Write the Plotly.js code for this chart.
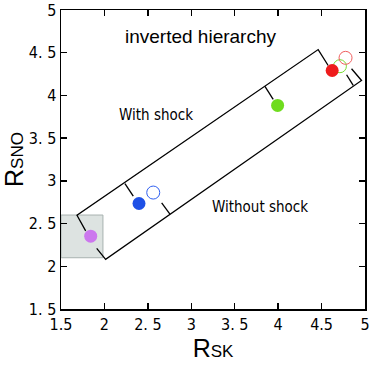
<!DOCTYPE html>
<html>
<head>
<meta charset="utf-8">
<script src="https://cdn.plot.ly/plotly-3.0.1.min.js"></script>
<style>
  body { margin: 0; background: #fff; }
  #chart { width: 370px; height: 367px; }
</style>
</head>
<body>
<div id="chart"></div>
<script>
// measured points (R_SK, R_SNO)
const filledX = [1.842, 2.398, 3.994, 4.622];
const filledY = [2.353, 2.735, 3.883, 4.292];
const filledColors = ["#cc77ee", "#1e50e6", "#6fdc1e", "#ee1c1c"];

const openX = [2.562, 4.711, 4.776];
const openY = [2.863, 4.342, 4.440];
const openColors = ["#3060f0", "#77dd33", "#f06060"];

// band outline and the little perpendicular ticks (null = break)
const bandX = [1.784, 1.684, 4.461, 4.576, null,
               4.845, 4.960, 2.014, 1.911, null,
               2.236, 2.332, null, 2.754, 2.659, null,
               3.848, 3.943, null, 4.864, 4.788];
const bandY = [2.415, 2.598, 4.537, 4.350, null,
               4.312, 4.175, 2.081, 2.209, null,
               2.968, 2.820, null, 2.610, 2.742, null,
               4.105, 3.953, null, 4.117, 4.242];

// grey box
const boxX = [1.5, 1.983];
const boxY = [2.1, 2.6];

const tickVals = [1.5, 2, 2.5, 3, 3.5, 4, 4.5, 5];
const xTickText = ["1.5", "2", "2. 5", "3", "3. 5", "4", "4.5", "5"];
const yTickText = ["1. 5", "2", "2. 5", "3", "3. 5", "4", "4. 5", "5"];

const narrow = "'Liberation Sans Narrow', 'DejaVu Sans Condensed', 'Liberation Sans', sans-serif";

const traces = [
  {
    x: bandX, y: bandY,
    mode: "lines", type: "scatter",
    line: { color: "#000", width: 1.3 },
    connectgaps: false,
    hoverinfo: "skip"
  },
  {
    x: openX, y: openY,
    mode: "markers", type: "scatter",
    marker: { size: 13, color: "rgba(0,0,0,0)", line: { color: openColors, width: 1 } }
  },
  {
    x: filledX, y: filledY,
    mode: "markers", type: "scatter",
    marker: { size: 13, color: filledColors, line: { width: 0 } }
  }
];

const axisBase = {
  range: [1.5, 5],
  tickvals: tickVals,
  ticks: "inside",
  ticklen: 6,
  tickwidth: 1.3,
  tickcolor: "#000",
  showline: true,
  linecolor: "#000",
  linewidth: 1.5,
  mirror: "ticks",
  showgrid: false,
  zeroline: false,
  tickfont: { family: narrow, size: 16, color: "#000" }
};

const layout = {
  width: 370,
  height: 367,
  margin: { l: 61, r: 5, t: 10, b: 58 },
  paper_bgcolor: "#fff",
  plot_bgcolor: "#fff",
  showlegend: false,
  xaxis: Object.assign({}, axisBase, {
    ticktext: xTickText,
    title: {
      text: "R<span style='font-size:17px'>SK</span>",
      font: { family: "'Liberation Sans', Arial, sans-serif", size: 25, color: "#000" },
      standoff: 4
    }
  }),
  yaxis: Object.assign({}, axisBase, {
    ticktext: yTickText,
    title: {
      text: "R<span style='font-size:17px'>SNO</span>",
      font: { family: "'Liberation Sans', Arial, sans-serif", size: 25, color: "#000" },
      standoff: 6
    }
  }),
  shapes: [
    {
      type: "rect", layer: "below",
      x0: boxX[0], x1: boxX[1], y0: boxY[0], y1: boxY[1],
      fillcolor: "#dde3e1",
      line: { color: "#a8b2b0", width: 1 }
    }
  ],
  annotations: [
    { x: 3.11, y: 4.69, text: "inverted hierarchy", showarrow: false,
      font: { family: "'Liberation Sans', Arial, sans-serif", size: 19, color: "#000" } },
    { x: 2.59, y: 3.77, text: "With shock", showarrow: false,
      font: { family: narrow, size: 15, color: "#000" } },
    { x: 3.79, y: 2.69, text: "Without shock", showarrow: false,
      font: { family: narrow, size: 15, color: "#000" } }
  ]
};

Plotly.newPlot("chart", traces, layout, { displayModeBar: false, staticPlot: true });
</script>
</body>
</html>
